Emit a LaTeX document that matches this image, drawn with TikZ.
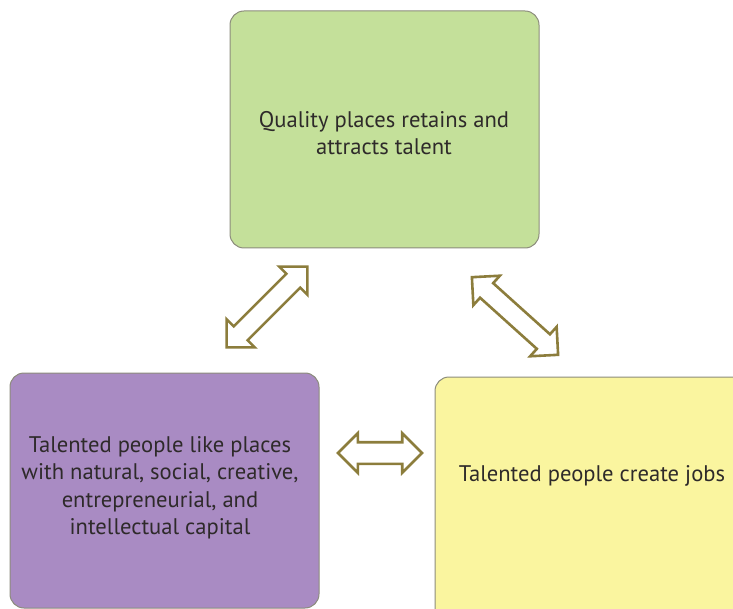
\documentclass[tikz,border=0pt]{standalone}
\usepackage{fontspec}
\setmainfont{PT Sans}
\usetikzlibrary{shapes.arrows}
\definecolor{boxgreen}{HTML}{C4E09A}
\definecolor{boxpurple}{HTML}{A98BC3}
\definecolor{boxyellow}{HTML}{FAF59F}
\definecolor{boxedge}{HTML}{8C8C7C}
\definecolor{arrowedge}{HTML}{8C7D3C}
\definecolor{txt}{HTML}{2E2A2A}
\tikzset{
  card/.style={draw=boxedge, line width=1pt, rounded corners=14pt, inner sep=0pt},
  cardtext/.style={text=txt, font=\fontsize{22.6}{27.5}\selectfont, align=center},
  link/.style={double arrow, draw=arrowedge, fill=white, line width=2.6pt,
    inner sep=8.5pt, minimum width=38pt, double arrow head extend=10pt},
}
\begin{document}
\begin{tikzpicture}[x=1pt, y=-1pt]
  \useasboundingbox (0,0) rectangle (733,609);
  \clip (0,0) rectangle (733,609);
  % three cards
  \node[card, fill=boxgreen, minimum width=309pt, minimum height=237pt] (quality) at (384.5,129.5) {};
  \node[card, fill=boxpurple, minimum width=309pt, minimum height=235pt] (people) at (164.5,490.5) {};
  \node[card, fill=boxyellow, minimum width=314pt, minimum height=260pt] (jobs) at (592,507) {};
  % card texts
  \node[cardtext] (qualitytext) at (384,133) {Quality places retains and\\attracts talent};
  \node[cardtext] (peopletext) at (160,488) {Talented people like places\\with natural, social, creative,\\entrepreneurial, and\\intellectual capital};
  \node[cardtext] (jobstext) at (592,476) {Talented people create jobs};
  % two-way links between the cards
  \node[link, minimum height=114pt, rotate=45] (linkleft) at (267,307) {};
  \node[link, minimum height=116pt, rotate=-42] (linkright) at (515,316) {};
  \node[link, minimum height=84pt, minimum width=39pt, double arrow head extend=9pt, inner sep=9.5pt] (linkmid) at (380,453) {};
\end{tikzpicture}
\end{document}
